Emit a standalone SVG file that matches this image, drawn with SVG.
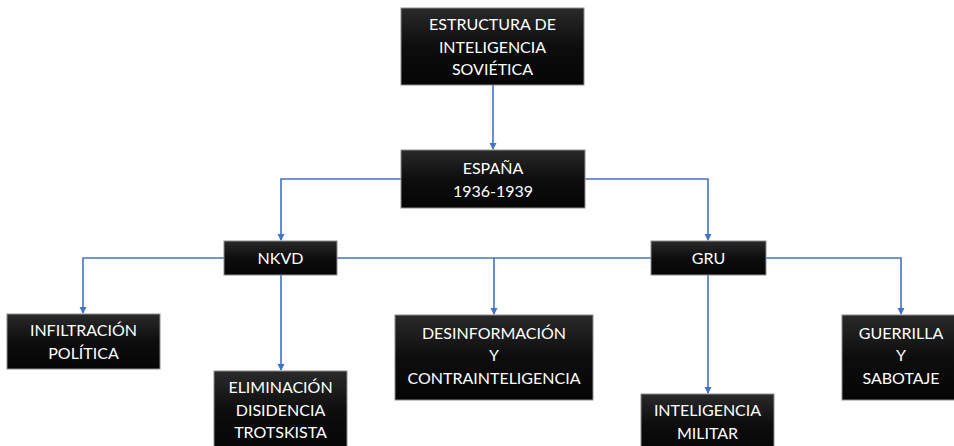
<svg xmlns="http://www.w3.org/2000/svg" width="954" height="446" viewBox="0 0 954 446">
<defs>
<linearGradient id="g" x1="0" y1="0" x2="0" y2="1">
<stop offset="0" stop-color="#2a2a2a"/>
<stop offset="0.5" stop-color="#0d0d0d"/>
<stop offset="1" stop-color="#050505"/>
</linearGradient>
<marker id="arr" markerWidth="8" markerHeight="8" refX="6" refY="4" orient="auto" markerUnits="userSpaceOnUse">
<path d="M0,0.5 L7,4 L0,7.5 Z" fill="#4472C4"/>
</marker>
<style>
.box{fill:url(#g);stroke:#8c8c8c;stroke-width:1}
.t{font-family:Lato,"Open Sans","Liberation Sans",sans-serif;font-size:16px;fill:#ffffff;text-anchor:middle}
.c{fill:none;stroke:#4472C4;stroke-width:1.6}
</style>
</defs>
<g id="connectors">
<path class="c" d="M493,85 V149" marker-end="url(#arr)"/>
<path class="c" d="M401,179 H281 V240" marker-end="url(#arr)"/>
<path class="c" d="M585,179 H708 V240" marker-end="url(#arr)"/>
<path class="c" d="M337,258 H651"/>
<path class="c" d="M494,258 V314" marker-end="url(#arr)"/>
<path class="c" d="M224,258 H83 V313" marker-end="url(#arr)"/>
<path class="c" d="M766,258 H901 V314" marker-end="url(#arr)"/>
<path class="c" d="M281,275 V370" marker-end="url(#arr)"/>
<path class="c" d="M708,275 V393" marker-end="url(#arr)"/>
</g>
<g id="n-estructura">
<rect class="box" x="401" y="8" width="183" height="77"/>
<text class="t" x="492.5" y="30">ESTRUCTURA DE</text>
<text class="t" x="492.5" y="53">INTELIGENCIA</text>
<text class="t" x="492.5" y="75">SOVIÉTICA</text>
</g>
<g id="n-espana">
<rect class="box" x="401" y="150" width="184" height="58"/>
<text class="t" x="493" y="174">ESPAÑA</text>
<text class="t" x="493" y="197">1936-1939</text>
</g>
<g id="n-nkvd">
<rect class="box" x="224" y="241" width="113" height="34"/>
<text class="t" x="280.5" y="264">NKVD</text>
</g>
<g id="n-gru">
<rect class="box" x="651" y="241" width="115" height="34"/>
<text class="t" x="708.5" y="264">GRU</text>
</g>
<g id="n-infiltracion">
<rect class="box" x="7" y="314" width="153" height="55"/>
<text class="t" x="83.5" y="336">INFILTRACIÓN</text>
<text class="t" x="83.5" y="359">POLÍTICA</text>
</g>
<g id="n-eliminacion">
<rect class="box" x="214" y="371" width="133" height="80"/>
<text class="t" x="280.5" y="393">ELIMINACIÓN</text>
<text class="t" x="280.5" y="416">DISIDENCIA</text>
<text class="t" x="280.5" y="438">TROTSKISTA</text>
</g>
<g id="n-desinformacion">
<rect class="box" x="395" y="315" width="198" height="85"/>
<text class="t" x="494" y="339">DESINFORMACIÓN</text>
<text class="t" x="494" y="361">Y</text>
<text class="t" x="494" y="384">CONTRAINTELIGENCIA</text>
</g>
<g id="n-militar">
<rect class="box" x="641" y="394" width="133" height="60"/>
<text class="t" x="707.5" y="416">INTELIGENCIA</text>
<text class="t" x="707.5" y="439">MILITAR</text>
</g>
<g id="n-guerrilla">
<rect class="box" x="842" y="315" width="118" height="85"/>
<text class="t" x="901" y="339">GUERRILLA</text>
<text class="t" x="901" y="361">Y</text>
<text class="t" x="901" y="384">SABOTAJE</text>
</g>
</svg>
